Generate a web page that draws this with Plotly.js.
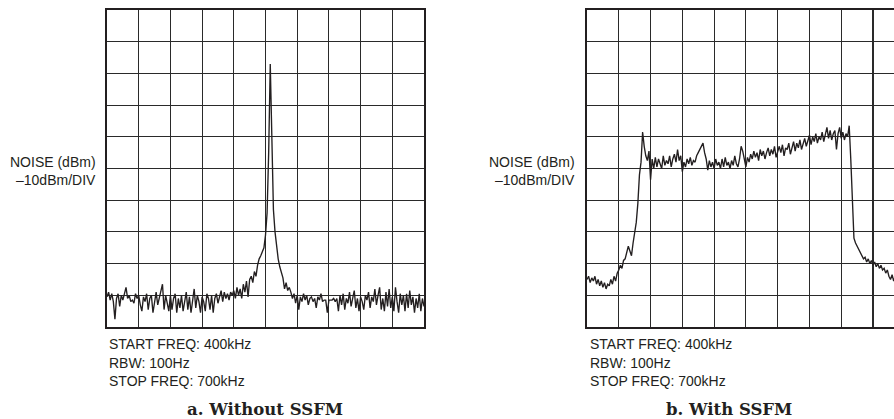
<!DOCTYPE html>
<html><head><meta charset="utf-8">
<script src="https://cdn.plot.ly/plotly-3.0.1.min.js"></script>
<style>html,body{margin:0;padding:0;background:#fff}#chart{width:894px;height:419px}</style>
</head><body><div id="chart"></div><script>
// Sweep settings (from the chart labels)
const START_KHZ = 400;
const STOP_KHZ = 700;
const SWEEP_POINTS = 201;
const DIV_KHZ = 30;
const DB_PER_DIV = 10;

// Trace a: without SSFM (dBm; top line = 0 dBm)
const noiseWithout = [
 -90.5,-89,-91.5,-89.5,-92,-97.5,-91,-89.5,-93.5,-90,
 -91.5,-89,-87.5,-91,-90,-92,-91.5,-92.5,-89.5,-91,
 -90,-93,-95,-90.5,-92,-89.5,-94.5,-91,-90,-95.5,
 -91.5,-89,-93,-90.5,-88.5,-86.5,-94.5,-90,-92.5,-95,
 -90,-94.5,-91,-89.5,-95.5,-91,-94,-90,-95,-91.5,
 -89,-94.5,-90.5,-95.5,-91,-88,-94,-90,-92,-95.5,
 -90.5,-92,-95,-89.5,-91,-94.5,-90,-95.5,-91,-89.5,
 -92.5,-90,-88.5,-92,-89,-91,-89.5,-91.5,-89,
 -90,-88.5,-91,-87.5,-90,-88,-91,-86.5,-89,-85.5,
 -90.5,-85,-84,-86,-82.5,-84,-80.5,-78.5,-77.5,-76.5,
 -75,-71,-64,-45,-17,-40,-63,-70,-75.5,-78.5,
 -81,-83,-84.5,-88,-86,-88.5,-87.5,-89,
 -91,-89.5,-92.5,-90,-94.5,-90.5,-92,-89.5,-91.5,-90,
 -93,-91,-90.5,-92,-91,-94,-90.5,-91.5,-89.5,-92,
 -91.5,-91.5,-95.5,-91.5,-91.5,-91.5,-91,-92,-91,-95,
 -90,-93,-89.5,-94.5,-91,-92.5,-89,-93.5,-91,-88.5,
 -94,-91,-95,-90.5,-92,-94.5,-90,-91.5,-89,-94,
 -90.5,-92,-88,-93,-90,-87.5,-94.5,-91,-95,-89,
 -93.5,-88,-94,-90.5,-95,-87.5,-92,-95.5,-89.5,-93,
 -90,-95,-89.5,-94,-88.5,-93,-90.5,-95.5,-91,-94,
 -89.5,-95,-91,-93.5
];

// Trace b: with SSFM (dBm)
const noiseWith = [
 -85,-84,-86,-84.5,-85.5,-84,-86.5,-85,-87,-85.5,
 -87.5,-86,-88,-86.5,-87,-85,-86.5,-84,-85.5,-83,
 -82,-80.5,-81.5,-79,-78.5,-76.5,-74.5,-76,-77.5,-73.5,
 -70.5,-67,-61,-52,-48,-38.5,-43,-46,-47.5,-44.5,
 -53.5,-47,-50,-46.5,-49.5,-47,-48.5,-50,-46,-49,
 -47.5,-48.5,-46,-49.5,-47,-45.5,-48,-44,-47.5,-46,
 -51,-48,-49.5,-47,-48.5,-46.5,-49,-47.5,-48,-46,
 -45,-44,-42.5,-42,-45,-47,-50.5,-47.5,-49.5,-48,
 -50,-47,-49,-48,-50,-47,-49.5,-46.5,-49,-48,
 -50,-47.5,-49,-46,-48.5,-49.5,-47,-43,-44.5,-47,
 -49.5,-46.5,-48,-45.5,-47,-44.5,-46.5,-45,-47.5,-44,
 -46,-44.5,-47,-45,-43.5,-46,-44,-45.5,-43,-46.5,
 -44.5,-43,-45,-42.5,-46,-43.5,-44,-42,-45.5,-43,
 -41.5,-44.5,-42,-43.5,-41,-44,-42.5,-40.5,-43,-41.5,
 -39.5,-42.5,-40,-41.5,-39,-42,-40,-41,-38.5,-41.5,
 -39.5,-37,-40.5,-38,-41,-39,-38,-44,-39,-37,
 -40.5,-38.5,-41,-39,-40,-36.5,-47,-62,-72,-73.5,
 -74.5,-75.5,-76.5,-77,-78.5,-78,-79.5,-78.5,-80,-79,
 -80.5,-79.5,-81,-80,-81.5,-80.5,-82,-81.5,-83,-82,
 -84,-85,-83.5,-85.5,-84,-85,-84.5,-86,-85,-86,
 -85.5
];

const sideLabel = ["NOISE (dBm)", "\u201310dBm/DIV"];
const sweepLabel = ["START FREQ: 400kHz", "RBW: 100Hz", "STOP FREQ: 700kHz"];
const captions = ["a. Without SSFM", "b. With SSFM"];

// Sweep frequency axis (instrument's linear sweep)
const freqKHz = Array.from({length: SWEEP_POINTS}, (_, i) => START_KHZ + i * (STOP_KHZ - START_KHZ) / (SWEEP_POINTS - 1));

const INK = '#231f20';
const W = 894, H = 419;
const px = v => v / W;
const py = v => 1 - v / H;

const traceStyle = {mode: 'lines', line: {color: INK, width: 1.35}, hoverinfo: 'skip', showlegend: false};
const data = [
  Object.assign({x: freqKHz, y: noiseWithout, xaxis: 'x', yaxis: 'y'}, traceStyle),
  Object.assign({x: freqKHz, y: noiseWith, xaxis: 'x2', yaxis: 'y2'}, traceStyle)
];

function xAx(domain, range, mirror) {
  return {domain, range, dtick: DIV_KHZ, tick0: START_KHZ, showgrid: true, gridcolor: '#2a2a2a', gridwidth: 1.1,
    showline: true, linecolor: INK, linewidth: 1.6, mirror, zeroline: false, showticklabels: false, ticks: '', fixedrange: true};
}
function yAx(domain, anchor, mirror) {
  return {domain, range: [-100, 0], dtick: DB_PER_DIV, tick0: 0, anchor, showgrid: true, gridcolor: '#2a2a2a', gridwidth: 1.1,
    showline: true, linecolor: INK, linewidth: 1.6, mirror, zeroline: false, showticklabels: false, ticks: '', fixedrange: true};
}

const yDom = [py(327), py(10)];
const visibleStop2 = START_KHZ + (W - 587) / 31.78 * DIV_KHZ;

const bodyFont = {family: 'Liberation Sans, Arial, sans-serif', size: 14, color: INK};
const capFont = {family: 'DejaVu Serif, serif', size: 16.5, color: INK, weight: 'bold'};

const annotations = [];
[[98, 107], [577, 587.5]].forEach(([sideRight, left]) => {
  sideLabel.forEach((t, k) => annotations.push({xref: 'paper', yref: 'paper', x: px(sideRight), y: py(162 + k * 18),
    text: t, showarrow: false, xanchor: 'right', yanchor: 'middle', align: 'right', font: bodyFont}));
  sweepLabel.forEach((t, k) => annotations.push({xref: 'paper', yref: 'paper', x: px(left), y: py(344 + k * 18.5),
    text: t, showarrow: false, xanchor: 'left', yanchor: 'middle', align: 'left', font: bodyFont}));
});
[[264.5, captions[0]], [728.5, captions[1]]].forEach(([cx, t]) => annotations.push({xref: 'paper', yref: 'paper',
  x: px(cx), y: py(409), text: '<b>' + t + '</b>', showarrow: false, xanchor: 'center', yanchor: 'middle', font: capFont}));

const layout = {
  width: W, height: H, margin: {l: 0, r: 0, t: 0, b: 0},
  paper_bgcolor: '#fff', plot_bgcolor: '#fff',
  xaxis: xAx([px(107), px(424)], [START_KHZ, STOP_KHZ], true),
  yaxis: yAx(yDom, 'x', true),
  xaxis2: xAx([px(587), 1], [START_KHZ, visibleStop2], true),
  yaxis2: yAx(yDom, 'x2', false),
  annotations
};

Plotly.newPlot('chart', data, layout, {displayModeBar: false, staticPlot: true});
</script></body></html>
